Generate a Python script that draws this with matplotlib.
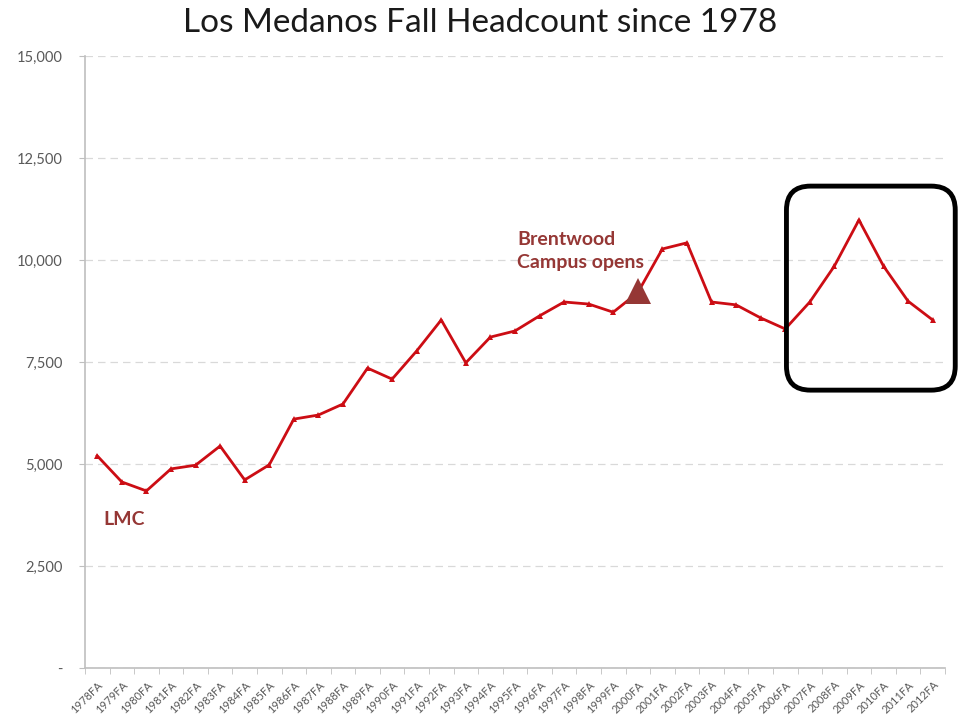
import matplotlib
matplotlib.use("Agg")
import matplotlib.pyplot as plt
from matplotlib.patches import FancyBboxPatch
from matplotlib.transforms import IdentityTransform
from matplotlib.ticker import FuncFormatter, MultipleLocator

# fall terms 1978..2012 and headcounts
years = list(range(1978, 2013))
terms = [f"{y}FA" for y in years]
headcount = [5200, 4560, 4340, 4880, 4970, 5440, 4610, 4980, 6100, 6200,
             6470, 7350, 7080, 7770, 8530, 7480, 8110, 8260, 8630, 8970,
             8920, 8720, 9200, 10270, 10420, 8970, 8900, 8580, 8310, 8970,
             9850, 10980, 9850, 8990, 8530]

brentwood_year = 2000
brentwood_level = 9230
highlight_years = (2006.05, 2012.92)
highlight_levels = (6810, 11810)

plt.rcParams['font.family'] = ['Lato', 'DejaVu Sans']

fig = plt.figure(figsize=(9.6, 7.19), dpi=100)
ax = fig.add_axes([0.0885, 0.0709, 0.8958, 0.8513])

line_red = '#cc0d14'
note_red = '#953735'

ax.plot(years, headcount, color=line_red, lw=2, marker='^', ms=4.5,
        markeredgewidth=0, zorder=3)
ax.plot([brentwood_year], [brentwood_level], marker='^', ms=19,
        color=note_red, markeredgewidth=0, zorder=4)

ax.set_xlim(years[0] - 0.5, years[-1] + 0.5)
ax.set_ylim(0, 15000)

ax.yaxis.set_major_locator(MultipleLocator(2500))
ax.yaxis.set_major_formatter(FuncFormatter(lambda v, p: '-' if v == 0 else f"{int(v):,}"))
ax.grid(axis='y', color='#d9d9d9', ls=(0, (6, 4)), lw=0.9)
ax.set_axisbelow(True)

ax.set_xticks(years)
ax.set_xticklabels(terms, rotation=45, ha='right', rotation_mode='anchor',
                   fontsize=8, color='#595959')
ax.set_xticks([y - 0.5 for y in years] + [years[-1] + 0.5], minor=True)
ax.tick_params(axis='x', which='major', length=0, pad=8)
ax.tick_params(axis='x', which='minor', length=4, color='#bfbfbf')
ax.tick_params(axis='y', length=4.3, color='#bfbfbf', labelsize=10.5,
               labelcolor='#595959', pad=12)

for s in ['top', 'right']:
    ax.spines[s].set_visible(False)
for s in ['left', 'bottom']:
    ax.spines[s].set_color('#bfbfbf')
    ax.spines[s].set_linewidth(1.2)

fig.text(0.5, 0.968, 'Los Medanos Fall Headcount since 1978', ha='center',
         va='center', fontsize=24, color='#1a1a1a')

ax.text(1978.23, 3650, 'LMC', fontsize=14, fontweight='bold', color=note_red,
        va='center')
ax.text(1995.08, 10220, 'Brentwood\nCampus opens', fontsize=14,
        fontweight='bold', color=note_red, linespacing=1.45, va='center')

# rounded highlight box around the 2006-2012 peak, drawn in pixels so the
# corners stay round
(x0, y0) = ax.transData.transform((highlight_years[0], highlight_levels[0]))
(x1, y1) = ax.transData.transform((highlight_years[1], highlight_levels[1]))
box = FancyBboxPatch((x0, y0), x1 - x0, y1 - y0,
                     boxstyle='round,pad=0,rounding_size=24',
                     transform=IdentityTransform(), fill=False,
                     ec='black', lw=3.5, zorder=5)
fig.patches.append(box)

fig.savefig('out.png', dpi=100)
